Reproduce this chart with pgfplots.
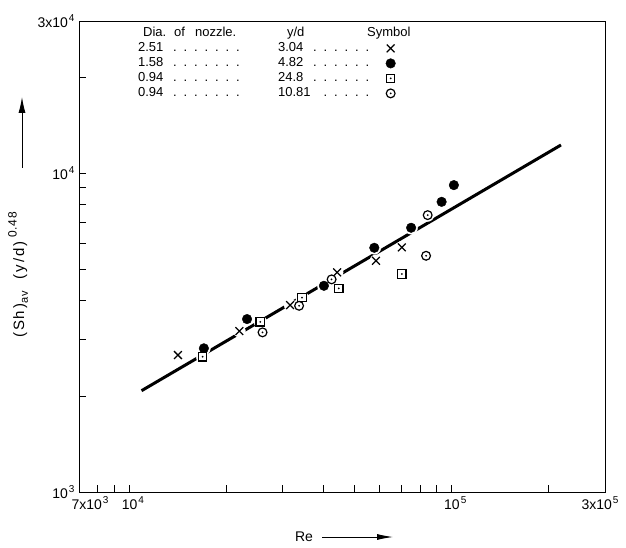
\documentclass[border=0pt]{standalone}
\usepackage{fontspec}
\setmainfont{Liberation Sans}
\usepackage{pgfplots}
\pgfplotsset{compat=1.18}
\usetikzlibrary{arrows.meta}

\pgfdeclareplotmark{sqdot}{%
  \pgfpathrectangle{\pgfqpoint{-\pgfplotmarksize}{-\pgfplotmarksize}}{\pgfqpoint{2\pgfplotmarksize}{2\pgfplotmarksize}}%
  \pgfusepathqfillstroke
  \begin{pgfscope}%
  \pgfsetfillcolor{black}%
  \pgfpathcircle{\pgfpointorigin}{1pt}%
  \pgfusepathqfill
  \end{pgfscope}}
\pgfdeclareplotmark{cdot}{%
  \pgfpathcircle{\pgfpointorigin}{\pgfplotmarksize}%
  \pgfusepathqfillstroke
  \begin{pgfscope}%
  \pgfsetfillcolor{black}%
  \pgfpathcircle{\pgfpointorigin}{1pt}%
  \pgfusepathqfill
  \end{pgfscope}}
\newcommand\mydots{\leaders\hbox to 10.5pt{\hss.\hss}\hfill}
\newcommand\sps[1]{\hspace{1pt}\raisebox{0.45em}{\fontsize{10}{10}\selectfont #1}}

\pgfplotstableread{
x y
14190 2688
22010 3197
31620 3857
44260 4884
58400 5311
70250 5850
}\crosses
\pgfplotstableread{
x y
17080 2822
23250 3486
40270 4433
57710 5833
75080 6740
93350 8128
101900 9171
}\filled
\pgfplotstableread{
x y
16920 2656
25550 3419
34440 4072
44790 4350
70250 4825
}\squares
\pgfplotstableread{
x y
25970 3167
33720 3837
42540 4643
83540 5506
84510 7385
}\circs

\begin{document}
\begin{tikzpicture}[x=1pt,y=1pt]
\useasboundingbox (0,0) rectangle (626,547);
\begin{axis}[
  at={(79pt,55pt)}, anchor=south west,
  width=526pt, height=471pt, scale only axis,
  xmode=log, ymode=log,
  xmin=7000, xmax=300000, ymin=1000, ymax=30000,
  xminorticks=false, yminorticks=false,
  xtick={7000,8000,9000,10000,20000,30000,40000,50000,60000,70000,80000,90000,100000,200000,300000},
  xticklabels={\hspace*{22pt}7x10\sps{3},,,\hspace*{8pt}10\sps{4},,,,,,,,,\hspace*{8pt}10\sps{5},,3x10\sps{5}\hspace*{10pt}},
  ytick={1000,2000,3000,4000,5000,6000,7000,8000,9000,10000,20000,30000},
  yticklabels={10\sps{3},,,,,,,,,10\sps{4},,3x10\sps{4}},
  tick pos=left, tick align=inside,
  major tick length=7pt,
  every tick/.style={black, line width=0.8pt},
  axis line style={line width=0.9pt},
  ticklabel style={font=\fontsize{14}{16}\selectfont},
  xticklabel style={yshift=-1pt},
  yticklabel style={xshift=-1pt},
  legend plot pos=right,
  legend cell align=left,
  legend style={at={(axis description cs:0.112,0.99)}, anchor=north west,
    draw=none, fill=none, font=\fontsize{13}{15}\selectfont,
    row sep=0pt, inner sep=0pt,
    nodes={text height=10pt, text depth=3pt, inner ysep=1pt, inner xsep=0pt}},
]
\addlegendimage{empty legend}
\addlegendentry{\makebox[244pt][l]{\makebox[149pt][l]{\hspace{5pt}Dia.\hspace{8pt}of\hspace{10pt}nozzle.}\makebox[80pt][l]{y/d}Symbol}}
\addplot[black, line width=3pt, forget plot] coordinates {(10940,2078) (219000,12250)};
% white halos around markers
\addplot[only marks, mark=*, mark size=6pt, white, forget plot] table {\crosses};
\addplot[only marks, mark=*, mark size=6.5pt, white, forget plot] table {\filled};
\addplot[only marks, mark=*, mark size=6.3pt, white, forget plot] table {\squares};
\addplot[only marks, mark=*, mark size=6.3pt, white, forget plot] table {\circs};
\addplot[only marks, mark=x, mark size=5.5pt, black, mark options={line width=1.3pt}] table {\crosses};
\addlegendentry{\makebox[140pt][l]{\makebox[112pt][l]{2.51\ \mydots}}\makebox[104pt][l]{\makebox[96pt][l]{3.04\ \mydots}}}
\addplot[only marks, mark=*, mark size=4.8pt, black] table {\filled};
\addlegendentry{\makebox[140pt][l]{\makebox[112pt][l]{1.58\ \mydots}}\makebox[104pt][l]{\makebox[96pt][l]{4.82\ \mydots}}}
\addplot[only marks, mark=sqdot, mark size=4.2pt, black, fill=white, mark options={line width=1.2pt}] table {\squares};
\addlegendentry{\makebox[140pt][l]{\makebox[112pt][l]{0.94\ \mydots}}\makebox[104pt][l]{\makebox[96pt][l]{24.8\ \mydots}}}
\addplot[only marks, mark=cdot, mark size=4.4pt, black, fill=white, mark options={line width=1.2pt}] table {\circs};
\addlegendentry{\makebox[140pt][l]{\makebox[112pt][l]{0.94\ \mydots}}\makebox[104pt][l]{\makebox[96pt][l]{10.81\ \mydots}}}
\end{axis}
\node[rotate=90, font=\fontsize{15}{17}\selectfont\addfontfeature{LetterSpace=12}] at (18,272)
  {(Sh)\raisebox{-0.25em}{\fontsize{11}{11}\selectfont av}\hspace{12pt}(y/d)\hspace{4pt}\raisebox{0.5em}{\fontsize{12}{12}\selectfont\addfontfeature{LetterSpace=6}0.48}};
\draw[line width=0.9pt, -{Latex[length=16pt,width=7pt]}] (22,379) -- (22,450);
\node[font=\fontsize{14}{16}\selectfont] at (304,10) {Re};
\draw[line width=0.9pt, -{Latex[length=16pt,width=6pt]}] (322,10) -- (393,10);
\end{tikzpicture}
\end{document}
